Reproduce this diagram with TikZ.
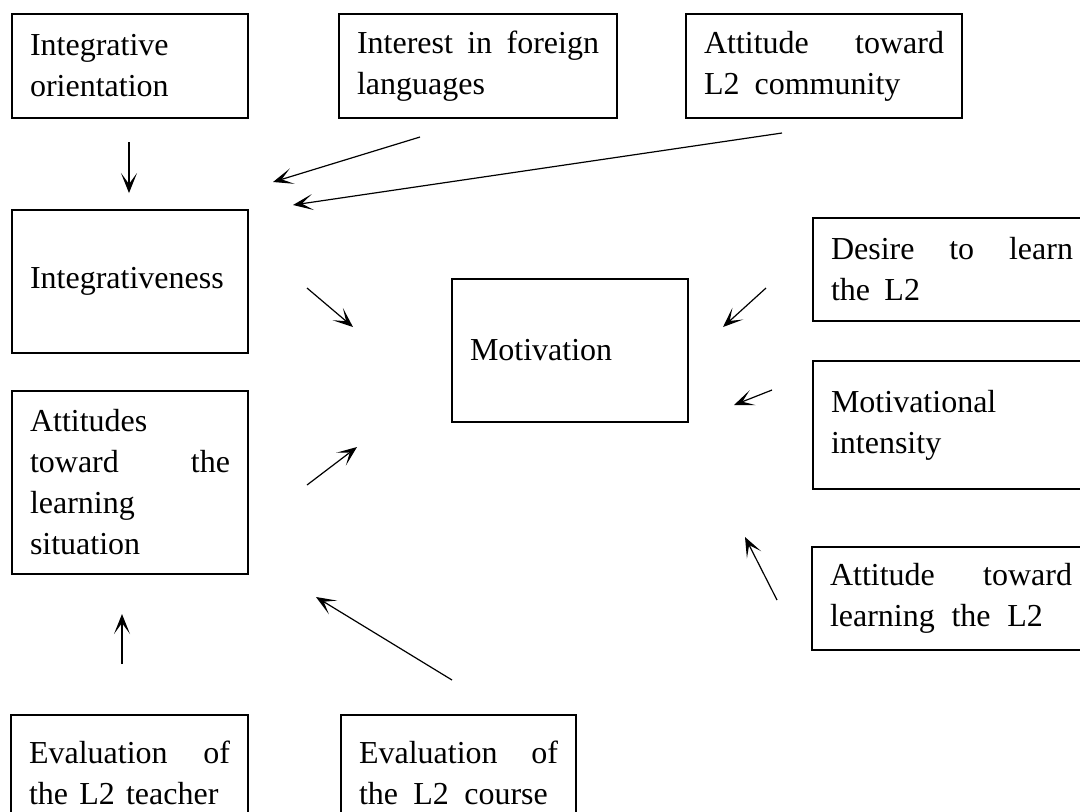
\documentclass[tikz,border=0pt]{standalone}
\usepackage{fontspec}
\setmainfont{Liberation Serif}
\usetikzlibrary{arrows.meta,calc}
\begin{document}
\begin{tikzpicture}[x=0.5pt,y=-0.5pt,
  box/.style={draw, line width=0.65pt, rectangle, inner xsep=9pt, inner ysep=0pt,
              align=left, font=\fontsize{16pt}{20.5pt}\selectfont},
  arr/.style={line width=0.6pt, -{Stealth[length=10pt,width=8pt,inset=5.5pt]}}]
\useasboundingbox (0,0) rectangle (1080,811);

% top row
\node[box, text width=100pt, minimum height=52pt] (io) at (130,66) {Integrative\\orientation};
\node[box, text width=121pt, minimum height=52pt] (ifl) at (478,66) {Interest\hfill in\hfill foreign\\languages};
\node[box, text width=120pt, minimum height=52pt] (atc) at (824,66) {Attitude\hfill toward\\L2\hspace{.47em}community};

% left column
\node[box, text width=100pt, minimum height=71.5pt] (ig) at (130,281.5) {Integrativeness};
\node[box, text width=100pt, minimum height=91.5pt] (als) at (130,482.5) {Attitudes\\toward\hfill the\\learning\\situation};

% centre
\node[box, text width=100pt, minimum height=71.5pt] (mot) at (570,350.5) {Motivation};

% right column
\node[box, text width=121pt, minimum height=51.5pt] (des) at (952,269.5) {Desire\hfill to\hfill learn\\the\hspace{.45em}L2};
\node[box, text width=121pt, minimum height=64pt] (mi) at (952,425) {Motivational\\intensity};
\node[box, text width=121pt, minimum height=51.5pt] (atl) at (951,598.5) {Attitude\hfill toward\\learning\hspace{.52em}the\hspace{.52em}L2};

% bottom row
\node[box, text width=100.5pt, minimum height=57.5pt] (evt) at (129.5,772.5) {Evaluation\hfill of\\the\hspace{.35em}L2\hspace{.35em}teacher};
\node[box, text width=99.5pt, minimum height=57.5pt] (evc) at (458.5,772.5) {Evaluation\hfill of\\the\hspace{.48em}L2\hspace{.48em}course};

% arrow end points
\coordinate (a1s) at (129,142);  \coordinate (a1e) at (129,193);
\coordinate (a2s) at (420,137);  \coordinate (a2e) at (273,182);
\coordinate (a3s) at (782,133);  \coordinate (a3e) at (293,205);
\coordinate (a4s) at (307,288);  \coordinate (a4e) at (353,327);
\coordinate (a5s) at (307,485);  \coordinate (a5e) at (357,447);
\coordinate (a6s) at (766,288);  \coordinate (a6e) at (723,327);
\coordinate (a7s) at (772,390);  \coordinate (a7e) at (734,405);
\coordinate (a8s) at (777,600);  \coordinate (a8e) at (745,537);
\coordinate (a9s) at (122,664);  \coordinate (a9e) at (122,614);
\coordinate (a10s) at (452,680); \coordinate (a10e) at (316,597);

\draw[arr] (a1s) -- (a1e);
\draw[arr] (a2s) -- (a2e);
\draw[arr] (a3s) -- (a3e);
\draw[arr] (a4s) -- (a4e);
\draw[arr] (a5s) -- (a5e);
\draw[arr] (a6s) -- (a6e);
\draw[arr] (a7s) -- (a7e);
\draw[arr] (a8s) -- (a8e);
\draw[arr] (a9s) -- (a9e);
\draw[arr] (a10s) -- (a10e);
\end{tikzpicture}
\end{document}
